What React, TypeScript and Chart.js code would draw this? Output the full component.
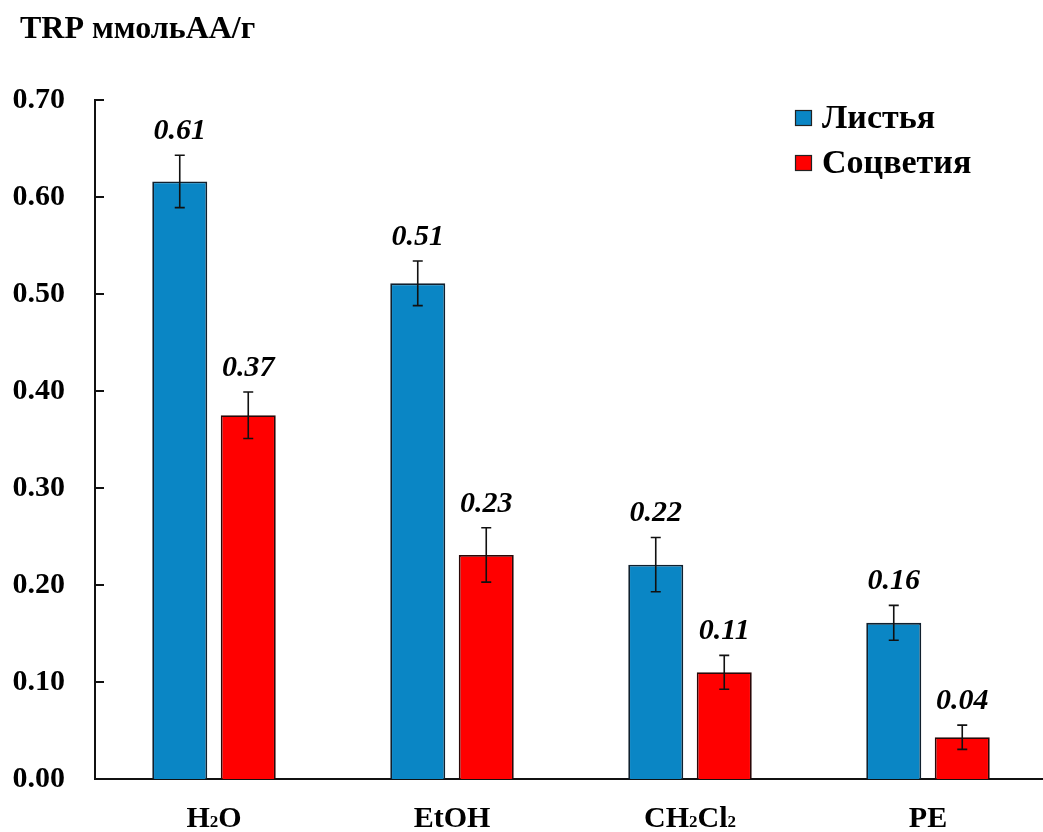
import { useEffect, useRef } from 'react';
import { Chart, registerables } from 'chart.js';

Chart.register(...registerables);

const titleText = 'TRP ммольАА/г';
const categories = ['H₂O', 'EtOH', 'CH₂Cl₂', 'PE'];
const seriesNames = ['Листья', 'Соцветия'];
const leavesValues = [0.616, 0.511, 0.221, 0.161];
const inflorValues = [0.375, 0.231, 0.11, 0.043];
const leavesErrors = [0.027, 0.023, 0.028, 0.018];
const inflorErrors = [0.024, 0.028, 0.0175, 0.0125];
const leavesLabels = ['0.61', '0.51', '0.22', '0.16'];
const inflorLabels = ['0.37', '0.23', '0.11', '0.04'];
const yMin = 0;
const yMax = 0.7;
const yStep = 0.1;

const BLUE = '#0A86C5';
const RED = '#FF0000';
const FONT = '"Liberation Serif", "Times New Roman", "DejaVu Serif", serif';

const errorsByDataset = [leavesErrors, inflorErrors];
const labelsByDataset = [leavesLabels, inflorLabels];

const SUBS = '₀₁₂₃₄₅₆₇₈₉';

function splitRuns(s: string) {
  const runs: { text: string; sub: boolean }[] = [];
  for (const ch of s) {
    const idx = SUBS.indexOf(ch);
    const sub = idx >= 0;
    const c = sub ? String(idx) : ch;
    const last = runs[runs.length - 1];
    if (last && last.sub === sub) last.text += c;
    else runs.push({ text: c, sub });
  }
  return runs;
}

const decorPlugin = {
  id: 'decor',
  afterDatasetsDraw(chart: any) {
    const ctx = chart.ctx;
    const yScale = chart.scales.y;
    ctx.save();
    chart.data.datasets.forEach((ds: any, di: number) => {
      const meta = chart.getDatasetMeta(di);
      meta.data.forEach((el: any, i: number) => {
        const v = ds.data[i];
        const e = errorsByDataset[di][i];
        const x = el.x;
        const yTop = yScale.getPixelForValue(v + e);
        const yBot = yScale.getPixelForValue(v - e);
        ctx.strokeStyle = '#111';
        ctx.lineWidth = 1.6;
        ctx.beginPath();
        ctx.moveTo(x, yTop);
        ctx.lineTo(x, yBot);
        ctx.moveTo(x - 5, yTop);
        ctx.lineTo(x + 5, yTop);
        ctx.moveTo(x - 5, yBot);
        ctx.lineTo(x + 5, yBot);
        ctx.stroke();
        ctx.fillStyle = '#000';
        ctx.font = `italic bold 30px ${FONT}`;
        ctx.textAlign = 'center';
        ctx.textBaseline = 'alphabetic';
        ctx.fillText(labelsByDataset[di][i], x, yTop - 16);
      });
    });
    ctx.restore();
  },
  afterDraw(chart: any) {
    const ctx = chart.ctx;
    const yScale = chart.scales.y;
    const xScale = chart.scales.x;
    const left = chart.chartArea.left;
    const bottom = chart.chartArea.bottom;
    ctx.save();
    // inward y ticks
    ctx.strokeStyle = '#111';
    ctx.lineWidth = 2;
    yScale.ticks.forEach((t: any) => {
      const y = Math.round(yScale.getPixelForValue(t.value));
      ctx.beginPath();
      ctx.moveTo(left, y);
      ctx.lineTo(left + 9, y);
      ctx.stroke();
    });
    // x category labels with baseline subscripts
    ctx.fillStyle = '#000';
    ctx.textBaseline = 'alphabetic';
    ctx.textAlign = 'left';
    const bigFont = `bold 30px ${FONT}`;
    const smallFont = `bold 17px ${FONT}`;
    (chart.data.labels as string[]).forEach((lab, i) => {
      const runs = splitRuns(lab);
      let total = 0;
      const widths = runs.map((r) => {
        ctx.font = r.sub ? smallFont : bigFont;
        const w = ctx.measureText(r.text).width;
        total += w;
        return w;
      });
      let x = xScale.getPixelForTick(i) - total / 2;
      const y = bottom + 48;
      runs.forEach((r, k) => {
        ctx.font = r.sub ? smallFont : bigFont;
        ctx.fillText(r.text, x, y);
        x += widths[k];
      });
    });
    // title
    ctx.font = `bold 32px ${FONT}`;
    ctx.fillText(titleText, 20, 38);
    // legend
    const colors = [BLUE, RED];
    seriesNames.forEach((name, i) => {
      const by = 110 + i * 45;
      ctx.fillStyle = colors[i];
      ctx.fillRect(795, by, 17, 16);
      ctx.strokeStyle = '#222';
      ctx.lineWidth = 1.2;
      ctx.strokeRect(795.5, by + 0.5, 16, 15);
      ctx.fillStyle = '#000';
      ctx.font = `bold 34px ${FONT}`;
      ctx.textBaseline = 'middle';
      ctx.fillText(name, 822, by + 9);
      ctx.textBaseline = 'alphabetic';
    });
    ctx.restore();
  },
};

export default function App() {
  const ref = useRef<HTMLCanvasElement | null>(null);
  useEffect(() => {
    if (!ref.current) return;
    const chart = new Chart(ref.current, {
      type: 'bar',
      data: {
        labels: categories,
        datasets: [
          {
            label: seriesNames[0],
            data: leavesValues,
            backgroundColor: BLUE,
            borderColor: '#10202e',
            borderWidth: 1.8,
            categoryPercentage: 0.5756,
            barPercentage: 0.803,
          },
          {
            label: seriesNames[1],
            data: inflorValues,
            backgroundColor: RED,
            borderColor: '#2a0808',
            borderWidth: 1.8,
            categoryPercentage: 0.5756,
            barPercentage: 0.803,
          },
        ],
      },
      options: {
        responsive: false,
        animation: false,
        devicePixelRatio: 1,
        layout: { padding: { top: 100, right: 0, left: 0, bottom: 0 } },
        plugins: {
          legend: { display: false },
          title: { display: false },
          tooltip: { enabled: false },
        },
        scales: {
          x: {
            grid: { display: false, drawTicks: false },
            border: { display: true, color: '#111', width: 2 },
            ticks: { display: false, autoSkip: false },
            afterFit: (s: any) => {
              s.height = 53;
            },
          },
          y: {
            min: yMin,
            max: yMax,
            grid: { display: false, drawTicks: false },
            border: { display: true, color: '#111', width: 2 },
            ticks: {
              stepSize: yStep,
              color: '#000',
              font: { family: FONT, size: 30, weight: 'bold' },
              padding: 30,
              callback: (v: any) => Number(v).toFixed(2),
            },
            afterFit: (s: any) => {
              s.width = 95;
            },
          },
        },
      },
      plugins: [decorPlugin],
    });
    return () => chart.destroy();
  }, []);
  return (
    <div
      style={{
        position: 'fixed',
        left: 0,
        top: 0,
        width: 1043,
        height: 832,
        overflow: 'hidden',
        background: '#fff',
      }}
    >
      <canvas ref={ref} width={1047} height={832} style={{ display: 'block' }} />
    </div>
  );
}
